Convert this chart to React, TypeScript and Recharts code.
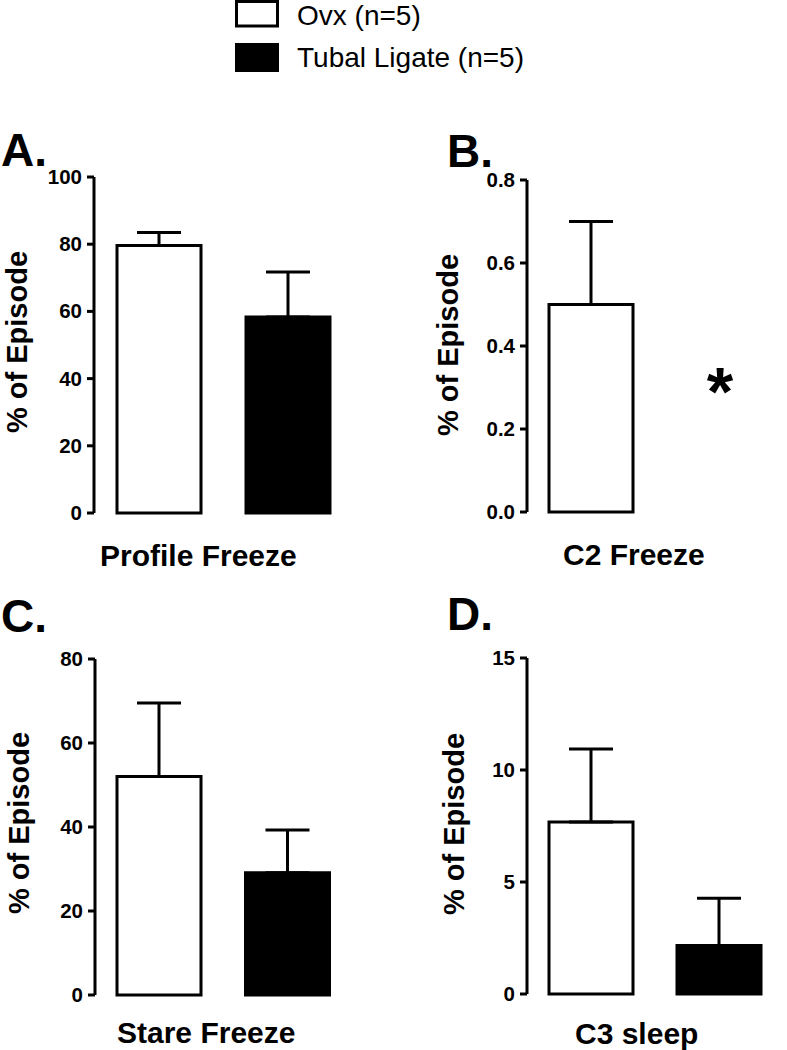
import { Bar, BarChart, Cell, ErrorBar, XAxis, YAxis } from "recharts";

const groups = ["Ovx (n=5)", "Tubal Ligate (n=5)"];
const groupFills = ["#ffffff", "#000000"];

const profileFreeze = [79.6, 58.3];
const profileFreezeSem = [3.9, 13.4];

const c2Freeze = [0.5, 0];
const c2FreezeSem = [0.2, 0];

const stareFreeze = [52.0, 29.1];
const stareFreezeSem = [17.5, 10.2];

const c3Sleep = [7.68, 2.16];
const c3SleepSem = [3.26, 2.11];

const FONT = '"Liberation Sans", Arial, Helvetica, sans-serif';

const toRows = (means: number[], sems: number[]) =>
  groups.map((g, i) => ({ group: g, mean: means[i], err: [0, sems[i]] }));

type PanelProps = {
  left: number;
  top: number;
  width: number;
  height: number;
  axisWidth: number;
  margin: { top: number; right: number; bottom: number; left: number };
  means: number[];
  sems: number[];
  max: number;
  ticks: number[];
  fmt?: (v: number) => string;
};

function Panel(p: PanelProps) {
  const renderTick = (t: any) => {
    const v = t.payload.value as number;
    return (
      <text
        x={t.x}
        y={t.y}
        dy={7}
        textAnchor="end"
        style={{ fontSize: "20.5px", fontWeight: 700, fontFamily: FONT, fill: "#000" }}
      >
        {p.fmt ? p.fmt(v) : String(v)}
      </text>
    );
  };
  return (
    <div style={{ position: "absolute", left: p.left, top: p.top }}>
      <BarChart
        width={p.width}
        height={p.height}
        data={toRows(p.means, p.sems)}
        margin={p.margin}
      >
        <XAxis
          dataKey="group"
          tick={false}
          tickLine={false}
          height={0}
          axisLine={{ stroke: "#000", strokeWidth: 3 }}
        />
        <YAxis
          width={p.axisWidth}
          domain={[0, p.max]}
          ticks={p.ticks}
          interval={0}
          tickSize={7}
          tickMargin={5}
          axisLine={{ stroke: "#000", strokeWidth: 3 }}
          tickLine={{ stroke: "#000", strokeWidth: 3 }}
          tick={renderTick}
        />
        <Bar
          dataKey="mean"
          barSize={84}
          stroke="#000"
          strokeWidth={3}
          isAnimationActive={false}
        >
          {groups.map((g, i) => (
            <Cell key={g} fill={groupFills[i]} stroke="#000" strokeWidth={3} />
          ))}
          <ErrorBar dataKey="err" width={22} stroke="#000" strokeWidth={3} direction="y" />
        </Bar>
      </BarChart>
    </div>
  );
}

export default function App() {
  return (
    <div
      style={{
        position: "absolute",
        left: 0,
        top: 0,
        width: 787,
        height: 1050,
        background: "#fff",
        fontFamily: FONT,
      }}
    >
      <Panel
        left={0}
        top={120}
        width={370}
        height={460}
        axisWidth={94}
        margin={{ top: 57, right: 18, bottom: 67, left: 0 }}
        means={profileFreeze}
        sems={profileFreezeSem}
        max={100}
        ticks={[0, 20, 40, 60, 80, 100]}
      />
      <Panel
        left={410}
        top={120}
        width={377}
        height={460}
        axisWidth={117}
        margin={{ top: 60, right: 4, bottom: 68, left: 0 }}
        means={c2Freeze}
        sems={c2FreezeSem}
        max={0.8}
        ticks={[0, 0.2, 0.4, 0.6, 0.8]}
        fmt={(v) => v.toFixed(1)}
      />
      <Panel
        left={0}
        top={600}
        width={370}
        height={450}
        axisWidth={95}
        margin={{ top: 59, right: 18, bottom: 55, left: 0 }}
        means={stareFreeze}
        sems={stareFreezeSem}
        max={80}
        ticks={[0, 20, 40, 60, 80]}
      />
      <Panel
        left={410}
        top={600}
        width={377}
        height={450}
        axisWidth={117}
        margin={{ top: 58, right: 4, bottom: 56, left: 0 }}
        means={c3Sleep}
        sems={c3SleepSem}
        max={15}
        ticks={[0, 5, 10, 15]}
      />

      <svg
        width={787}
        height={1050}
        style={{ position: "absolute", left: 0, top: 0, pointerEvents: "none" }}
        fontFamily={FONT}
      >
        {/* legend */}
        <rect x={236.5} y={1.5} width={41} height={24.5} fill="#fff" stroke="#000" strokeWidth={3} />
        <rect x={235} y={43} width={44} height={29} fill="#000" />
        <text x={297} y={25} fontSize={28}>{groups[0]}</text>
        <text x={297} y={67} fontSize={28}>{groups[1]}</text>

        {/* panel letters */}
        <g fontSize={46} fontWeight={700}>
          <text x={1} y={166}>A.</text>
          <text x={447} y={167}>B.</text>
          <text x={1} y={632}>C.</text>
          <text x={447} y={630}>D.</text>
        </g>

        {/* y axis titles */}
        <g fontSize={29} fontWeight={700} textAnchor="middle">
          <text transform="translate(27,342) rotate(-90)">% of Episode</text>
          <text transform="translate(458,345) rotate(-90)">% of Episode</text>
          <text transform="translate(29,823) rotate(-90)">% of Episode</text>
          <text transform="translate(464,824) rotate(-90)">% of Episode</text>
        </g>

        {/* x axis titles */}
        <g fontSize={30} fontWeight={700}>
          <text x={100} y={566}>Profile Freeze</text>
          <text x={563} y={565}>C2 Freeze</text>
          <text x={117} y={1043}>Stare Freeze</text>
          <text x={575} y={1044}>C3 sleep</text>
        </g>

        {/* significance marker */}
        <text x={720} y={415} fontSize={68} fontWeight={700} textAnchor="middle">*</text>
      </svg>
    </div>
  );
}
